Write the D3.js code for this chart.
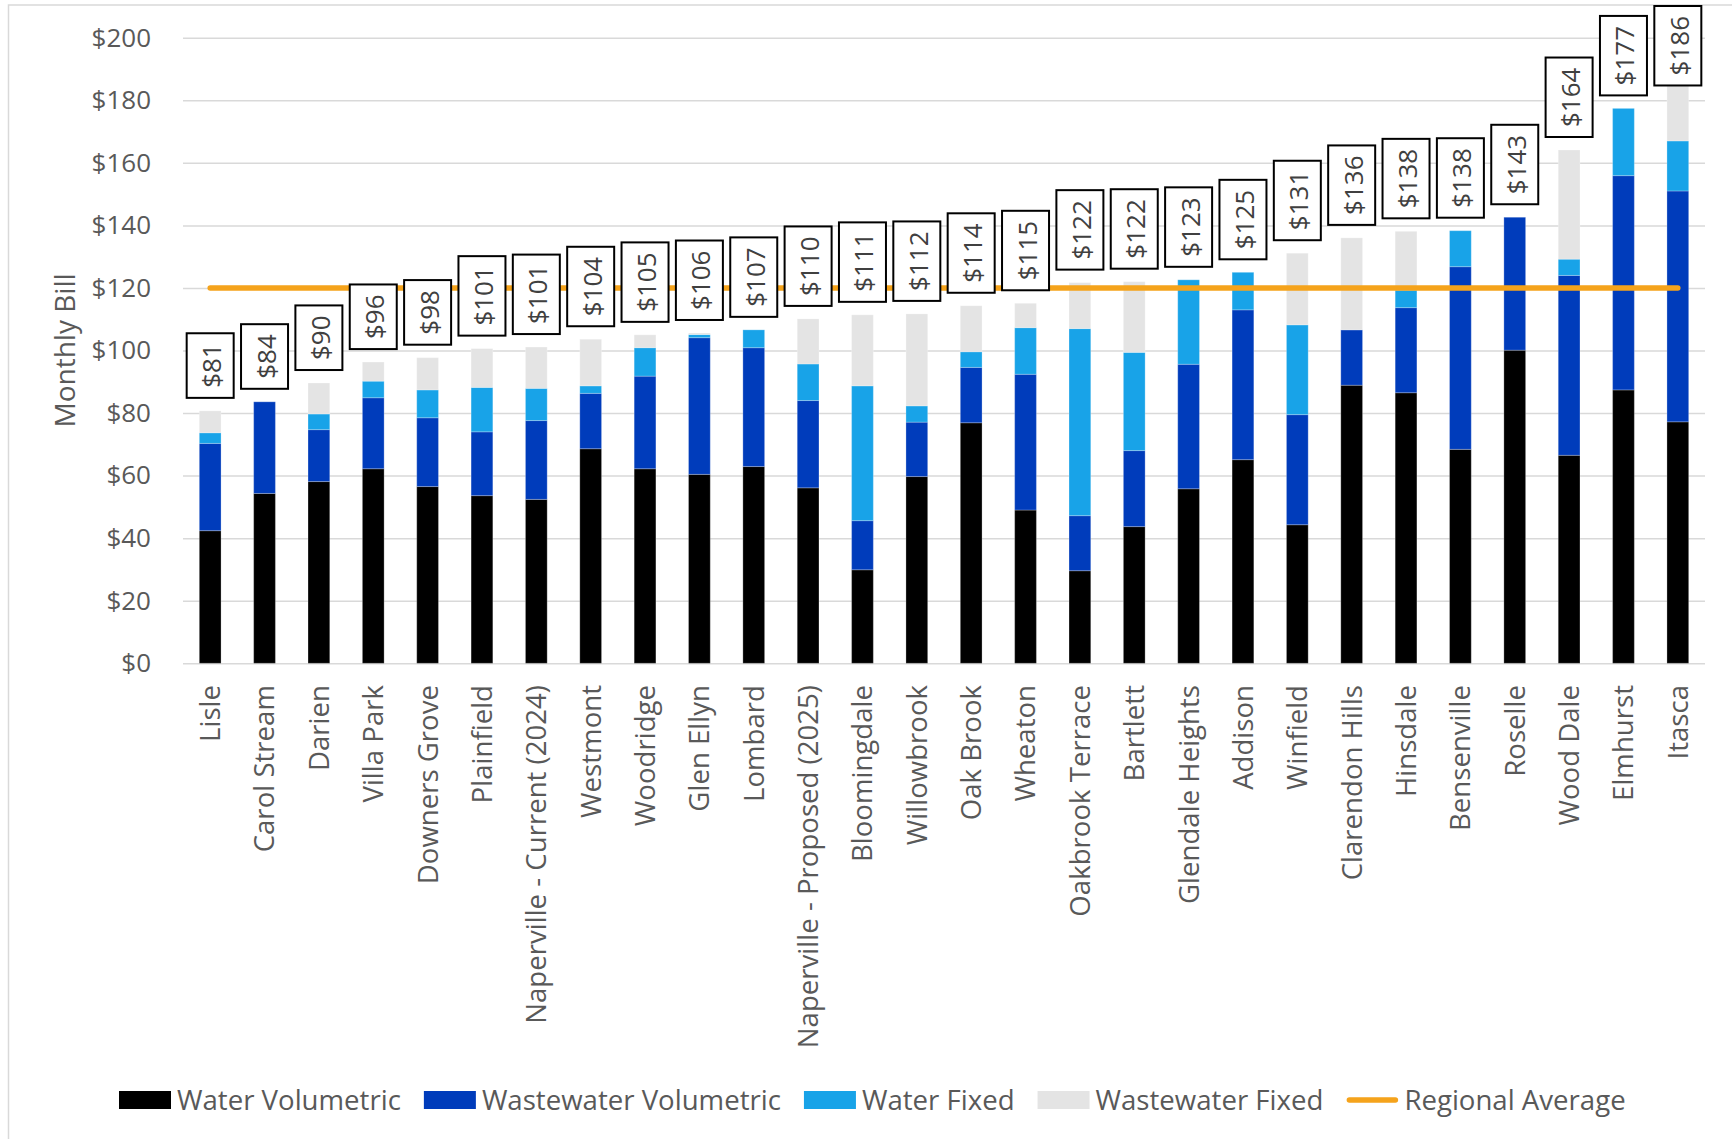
<!DOCTYPE html>
<meta charset="utf-8">
<body style="margin:0;background:#fff">
    <svg id="chart" width="1732" height="1139"></svg>
</body>
<script src="https://d3js.org/d3.v7.min.js"></script>
<style>
    text { font-family: "Open Sans", "Noto Sans", sans-serif; }
    .grid line { stroke: #d9d9d9; stroke-width: 1.5px; }
    .grid text { fill: #595959; font-size: 26px; }
</style>
<script>

    var towns = ["Lisle", "Carol Stream", "Darien", "Villa Park", "Downers Grove", "Plainfield",
        "Naperville - Current (2024)", "Westmont", "Woodridge", "Glen Ellyn", "Lombard",
        "Naperville - Proposed (2025)", "Bloomingdale", "Willowbrook", "Oak Brook", "Wheaton",
        "Oakbrook Terrace", "Bartlett", "Glendale Heights", "Addison", "Winfield", "Clarendon Hills",
        "Hinsdale", "Bensenville", "Roselle", "Wood Dale", "Elmhurst", "Itasca"];

    var waterVolumetric      = [42.4, 54.3, 58.1, 62.2, 56.5, 53.6, 52.4, 68.6, 62.2, 60.4, 62.9, 56.1, 29.9, 59.7, 76.9, 49.0, 29.6, 43.7, 55.8, 65.1, 44.3, 88.9, 86.5, 68.4, 100.1, 66.5, 87.4, 77.2];
    var wastewaterVolumetric = [27.9, 29.3, 16.6, 22.7, 22.0, 20.4, 25.2, 17.7, 29.6, 43.7, 38.0, 27.9, 15.7, 17.4, 17.7, 43.4, 17.6, 24.3, 39.8, 47.9, 35.2, 17.7, 27.2, 58.4, 42.5, 57.5, 68.5, 73.8];
    var waterFixed           = [3.4, 0, 5.0, 5.3, 8.9, 14.2, 10.3, 2.4, 9.1, 1.0, 5.7, 11.7, 43.1, 5.2, 5.0, 14.9, 59.8, 31.4, 27.0, 12.0, 28.7, 0, 5.6, 11.5, 0, 5.2, 21.5, 16.0];
    var wastewaterFixed      = [7.0, 0, 9.9, 6.1, 10.3, 12.4, 13.2, 14.9, 4.1, 0.5, 0, 14.4, 22.7, 29.4, 14.7, 7.8, 14.7, 22.6, 0, 0, 22.9, 29.4, 18.8, 0, 0, 34.9, 0, 19.0];

    var regionalAverage = 120;
    var yTicks = [0, 20, 40, 60, 80, 100, 120, 140, 160, 180, 200];

    var seriesKeys   = ["Water Volumetric", "Wastewater Volumetric", "Water Fixed", "Wastewater Fixed"];
    var seriesColors = ["#000000", "#003cbb", "#18a3e8", "#e4e4e4"];
    var lineColor = "#f5a31b";

    // table for d3.stack
    var table = towns.map(function (t, i) {
        return {
            town: t,
            "Water Volumetric": waterVolumetric[i],
            "Wastewater Volumetric": wastewaterVolumetric[i],
            "Water Fixed": waterFixed[i],
            "Wastewater Fixed": wastewaterFixed[i]
        };
    });

    var svg = d3.select("#chart");

    var plotLeft = 183, plotRight = 1705, plotTop = 37.7, plotBottom = 663.3;

    var x = d3.scaleBand().domain(towns).range([plotLeft, plotRight]).paddingInner(0.6).paddingOuter(0.3);
    var y = d3.scaleLinear().domain([0, 200]).range([plotBottom, plotTop]);
    var color = d3.scaleOrdinal().domain(seriesKeys).range(seriesColors);

    // outer chart frame
    svg.append("rect")
        .attr("x", 8.5).attr("y", 5)
        .attr("width", 1760).attr("height", 1160)
        .attr("fill", "none").attr("stroke", "#d9d9d9").attr("stroke-width", 1.5);

    // gridlines + y tick labels
    svg.append("g")
        .attr("class", "grid")
        .attr("transform", "translate(" + plotLeft + ",0)")
        .call(d3.axisLeft(y)
            .tickValues(yTicks)
            .tickSize(-(plotRight - plotLeft))
            .tickPadding(32)
            .tickFormat(function (d) { return "$" + d; }))
        .call(function (g) { g.select(".domain").remove(); })
        .selectAll("text").attr("font-size", null);

    // y axis title
    svg.append("text")
        .attr("transform", "translate(64," + ((plotTop + plotBottom) / 2) + ") rotate(-90)")
        .attr("text-anchor", "middle")
        .attr("dominant-baseline", "central")
        .attr("font-size", 28)
        .attr("fill", "#595959")
        .text("Monthly Bill");

    // stacked bars
    var stacked = d3.stack().keys(seriesKeys)(table);

    svg.append("g")
        .selectAll("g")
        .data(stacked)
        .enter().append("g")
            .attr("fill", function (d) { return color(d.key); })
        .selectAll("rect")
        .data(function (d) { return d; })
        .enter().append("rect")
            .attr("x", function (d) { return x(d.data.town); })
            .attr("y", function (d) { return y(d[1]); })
            .attr("width", x.bandwidth())
            .attr("height", function (d) { return y(d[0]) - y(d[1]); })
            .attr("stroke", "rgba(255,255,255,0.25)")
            .attr("stroke-width", function (d) { return d[1] - d[0] > 0 ? 1 : 0; });

    // category labels
    svg.append("g")
        .selectAll("text")
        .data(towns)
        .enter().append("text")
            .attr("transform", function (d) {
                return "translate(" + (x(d) + x.bandwidth() / 2) + ",685) rotate(-90)";
            })
            .attr("text-anchor", "end")
            .attr("dy", "0.36em")
            .attr("font-size", 27.6)
            .attr("fill", "#595959")
            .text(function (d) { return d; });

    // regional average line
    svg.append("line")
        .attr("x1", x(towns[0]) + x.bandwidth() / 2)
        .attr("x2", x(towns[towns.length - 1]) + x.bandwidth() / 2)
        .attr("y1", y(regionalAverage))
        .attr("y2", y(regionalAverage))
        .attr("stroke", lineColor)
        .attr("stroke-width", 5.5)
        .attr("stroke-linecap", "round");

    // total labels in boxes
    var totals = table.map(function (d) {
        return d3.sum(seriesKeys, function (k) { return d[k]; });
    });

    var labels = svg.append("g")
        .selectAll("g")
        .data(table)
        .enter().append("g");

    labels.each(function (d, i) {
        var g = d3.select(this);
        var cx = x(d.town) + x.bandwidth() / 2;
        var box = g.append("rect");
        var txt = g.append("text")
            .attr("text-anchor", "middle")
            .attr("dominant-baseline", "central")
            .attr("font-size", 26)
            .attr("fill", "#404040")
            .text("$" + Math.round(totals[i]));
        var len = txt.node().getComputedTextLength();
        var h = len + 20, w = 47;
        var bot = y(totals[i]) - 13;
        var tp = Math.max(6, bot - h);
        box.attr("x", cx - w / 2).attr("y", tp)
            .attr("width", w).attr("height", h)
            .attr("fill", "#fff").attr("stroke", "#000").attr("stroke-width", 2);
        txt.attr("transform", "translate(" + (cx + 1) + "," + (tp + h / 2) + ") rotate(-90)");
    });

    // legend
    var legendItems = seriesKeys.concat(["Regional Average"]);
    var legend = svg.append("g");
    var lx = 119;
    legendItems.forEach(function (name, i) {
        if (i < seriesKeys.length) {
            legend.append("rect")
                .attr("x", lx).attr("y", 1091)
                .attr("width", 52).attr("height", 18)
                .attr("fill", seriesColors[i]);
        } else {
            legend.append("line")
                .attr("x1", lx + 3).attr("x2", lx + 49)
                .attr("y1", 1100).attr("y2", 1100)
                .attr("stroke", lineColor).attr("stroke-width", 5.5)
                .attr("stroke-linecap", "round");
        }
        var t = legend.append("text")
            .attr("x", lx + 58).attr("y", 1110)
            .attr("font-size", 27.6)
            .attr("fill", "#595959")
            .text(name);
        lx += 58 + t.node().getComputedTextLength() + 23;
    });

</script>
